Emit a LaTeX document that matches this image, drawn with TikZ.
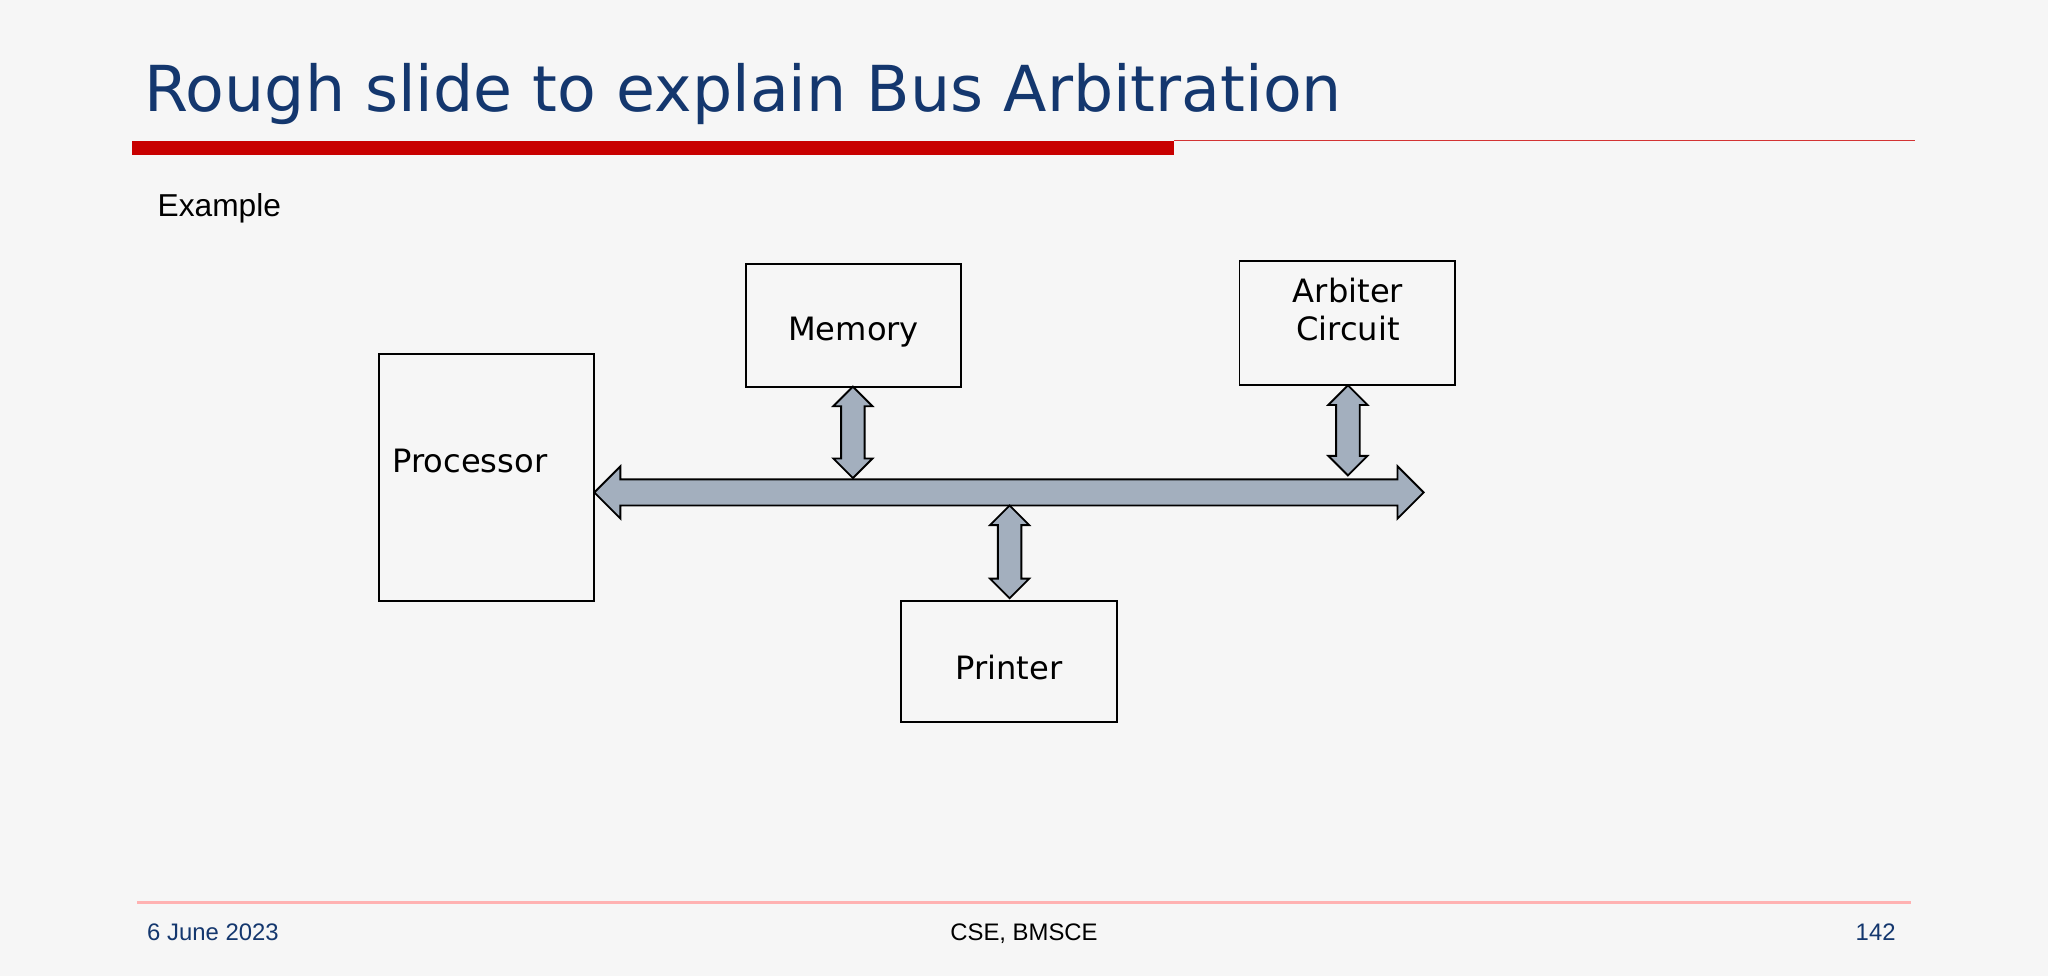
\documentclass[tikz,border=0pt]{standalone}
\usepackage{fontspec}
\setmainfont{DejaVu Sans}
\newfontfamily\arialf{Liberation Sans}
\definecolor{titleblue}{RGB}{20,55,110}
\definecolor{barred}{RGB}{200,0,0}
\definecolor{arrfill}{RGB}{163,175,190}
\definecolor{bg}{RGB}{246,246,246}
\newcommand\varr[3]{\draw[arr] (#1,#2) -- (#1+15,#2+15) -- (#1+9,#2+15) -- (#1+9,#3-15) -- (#1+15,#3-15) -- (#1,#3) -- (#1-15,#3-15) -- (#1-9,#3-15) -- (#1-9,#2+15) -- (#1-15,#2+15) -- cycle;}
\begin{document}
\begin{tikzpicture}[x=0.01cm,y=-0.01cm,
  blk/.style={draw=black,line width=0.4pt},
  arr/.style={draw=black,line width=0.4pt,fill=arrfill},
  lbl/.style={font=\fontsize{7}{8.4}\selectfont,align=center},
  foot/.style={font=\arialf\fontsize{5.2}{6.2}\selectfont}]
\useasboundingbox (0,0) rectangle (1568,747);
\fill[bg] (0,0) rectangle (1568,747);
\node[anchor=base west,text=titleblue,font=\fontsize{13.8}{15}\selectfont,inner sep=0pt] (title) at (110,85) {Rough slide to explain Bus Arbitration};
\fill[barred] (101,108) rectangle (899,119);
\draw[barred!80,line width=0.4pt] (899,107.5) -- (1466,107.5);
\node[anchor=base west,font=\arialf\fontsize{6.9}{8}\selectfont,inner sep=0pt] (ex) at (120,166) {Example};
\draw[blk] (571,202) rectangle (736,296);
\node[lbl] (memt) at (653.5,254) {Memory};
\draw[blk] (949,200) rectangle (1114,295);
\node[lbl] (arbt) at (1032,237) {Arbiter\\Circuit};
\draw[blk] (290,271) rectangle (455,460);
\node[lbl,anchor=west] (proct) at (288,353) {Processor};
\draw[blk] (690,460) rectangle (855,553);
\node[lbl] (prt) at (772.5,511) {Printer};
\draw[arr] (455,377) -- (475,357) -- (475,367) -- (1070,367) -- (1070,357) -- (1090,377) -- (1070,397) -- (1070,387) -- (475,387) -- (475,397) -- cycle;
\varr{653}{296}{366}
\varr{1032}{295}{364}
\varr{773}{387}{458}
\draw[red!30,line width=0.5pt] (105,691) -- (1463,691);
\node[foot,anchor=base west,text=titleblue,inner sep=0pt] (d) at (112,720) {6 June 2023};
\node[foot,anchor=base,inner sep=0pt] (c) at (784,720) {CSE, BMSCE};
\node[foot,anchor=base east,text=titleblue,inner sep=0pt] (n) at (1452,720) {142};
\end{tikzpicture}
\end{document}
